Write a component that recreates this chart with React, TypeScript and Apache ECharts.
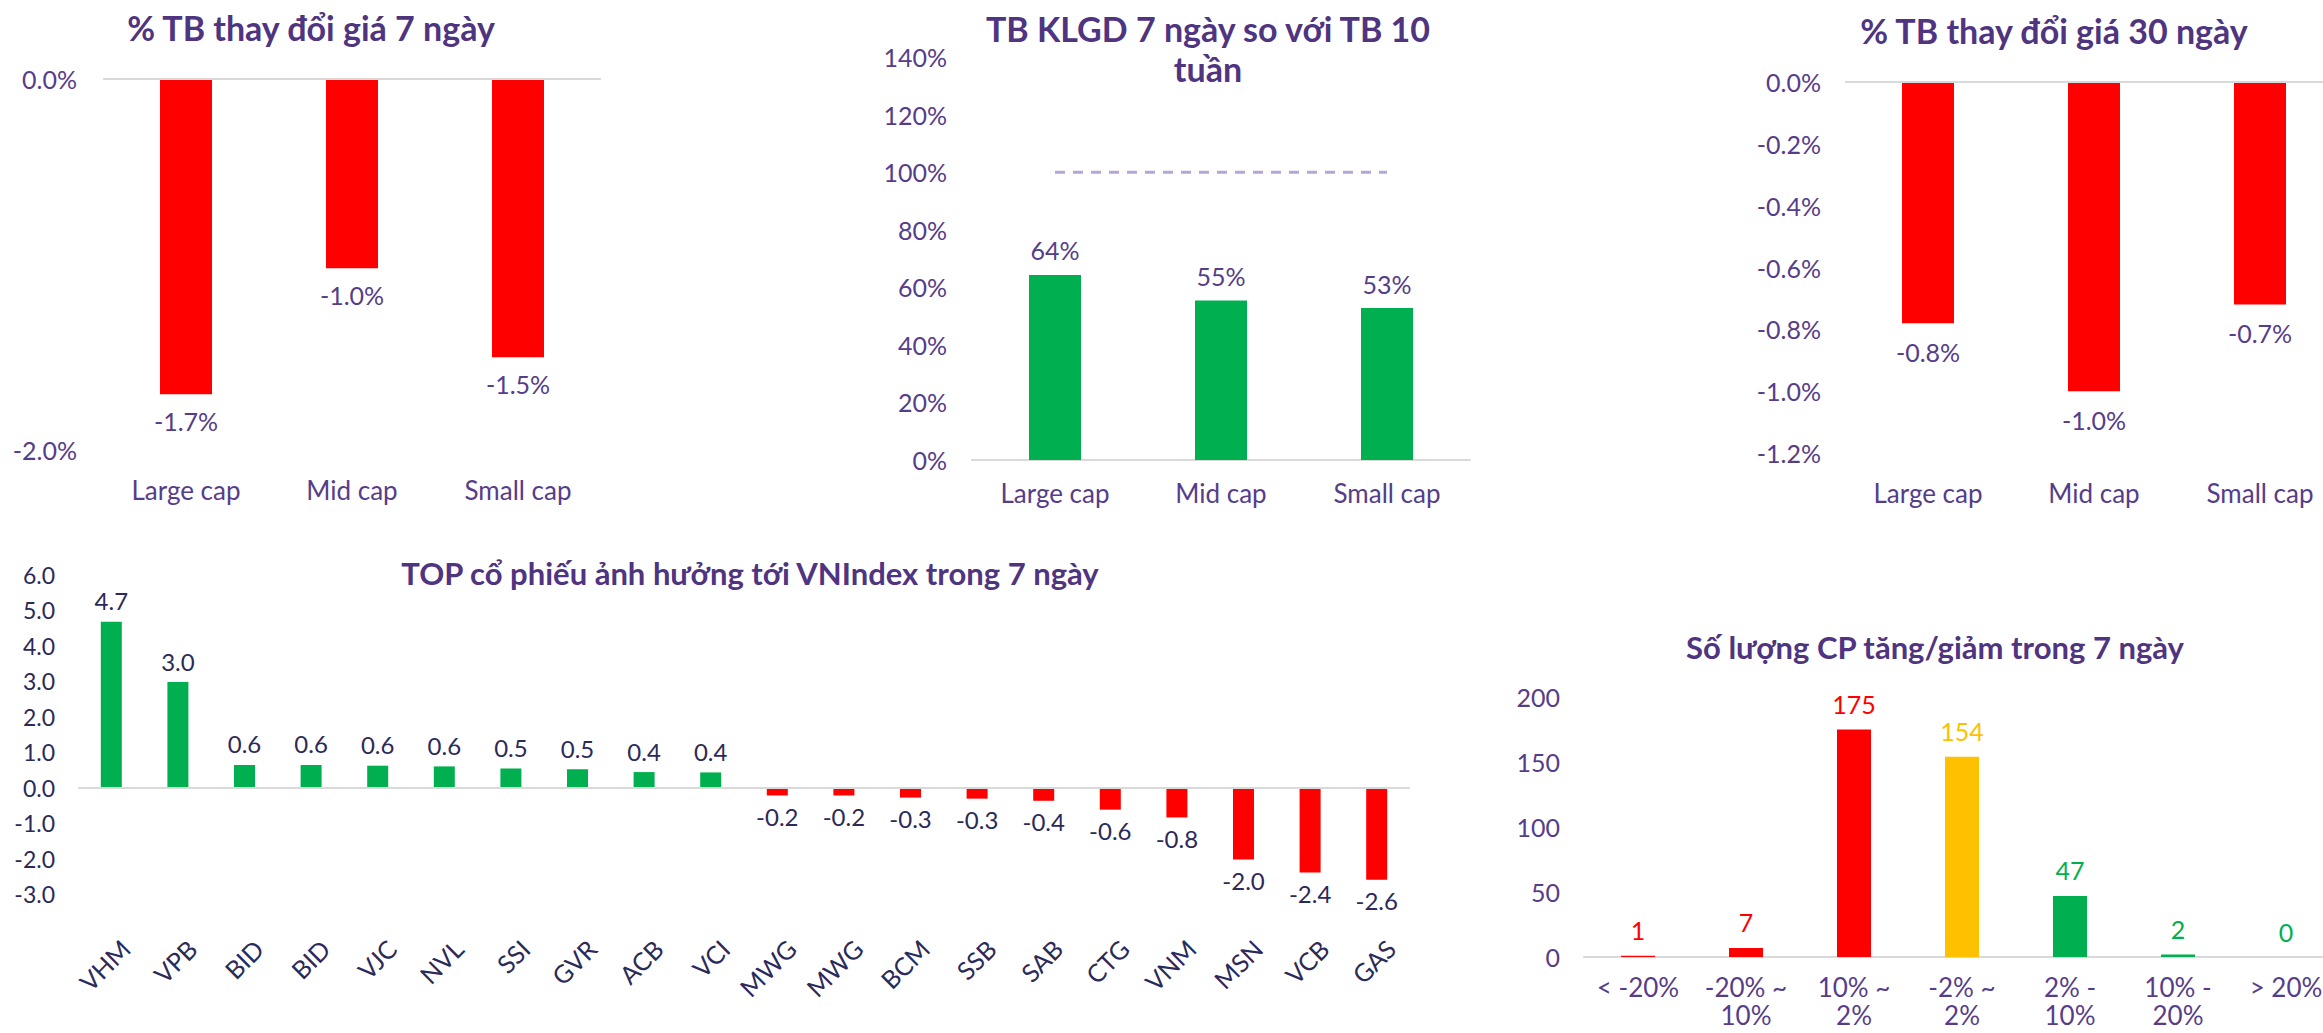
import React, { useEffect, useRef } from 'react';
import * as echarts from 'echarts';

// ---------- DATA ----------
const capCategories = ['Large cap', 'Mid cap', 'Small cap'];
const change7d = [-1.7, -1.02, -1.5];
const volumeRatio = [64.3, 55.4, 52.8];
const volumeReference = [100, 100, 100];
const change30d = [-0.78, -1.0, -0.72];

const topStocks = ['VHM', 'VPB', 'BID', 'BID', 'VJC', 'NVL', 'SSI', 'GVR', 'ACB', 'VCI', 'MWG', 'MWG', 'BCM', 'SSB', 'SAB', 'CTG', 'VNM', 'MSN', 'VCB', 'GAS'];
const topImpact = [4.68, 2.98, 0.64, 0.64, 0.62, 0.6, 0.54, 0.52, 0.44, 0.43, -0.22, -0.22, -0.28, -0.31, -0.37, -0.62, -0.84, -2.03, -2.39, -2.6];

const rangeCategories = ['< -20%', '-20% ~\n10%', '10% ~\n2%', '-2% ~\n2%', '2% -\n10%', '10% -\n20%', '> 20%'];
const rangeCounts = [1, 7, 175, 154, 47, 2, 0];

const titles = [
  '% TB thay đổi giá 7 ngày',
  'TB KLGD 7 ngày so với TB 10\ntuần',
  '% TB thay đổi giá 30 ngày',
  'TOP cổ phiếu ảnh hưởng tới VNIndex trong 7 ngày',
  'Số lượng CP tăng/giảm trong 7 ngày',
];

// ---------- STYLE ----------
const FONT = 'Lato';
const TITLE_C = '#4f3480';
const PURPLE = '#563d8a';
const NAVY = '#2b2a58';
const AXIS_C = '#d9d9d9';
const RED = '#FF0000';
const GREEN = '#00B050';
const ORANGE = '#FFC000';
const rangeColors = [RED, RED, RED, ORANGE, GREEN, GREEN, GREEN];

const W = 2323;
const H = 1033;

function titleText(text: string, x: number, y: number, size: number) {
  return {
    type: 'text',
    x,
    y,
    style: {
      text,
      fill: TITLE_C,
      font: `bold ${size}px ${FONT}`,
      align: 'center',
      verticalAlign: 'middle',
      textAlign: 'center',
      textVerticalAlign: 'middle',
      lineHeight: 40,
    },
  };
}

function zeroLine() {
  return {
    silent: true,
    symbol: 'none',
    label: { show: false },
    lineStyle: { color: AXIS_C, width: 2, type: 'solid' },
    data: [{ yAxis: 0 }],
  };
}

function catAxis(gridIndex: number, data: string[], color: string, margin: number, showLine: boolean, extra: any = {}) {
  return {
    type: 'category',
    gridIndex,
    data,
    axisTick: { show: false },
    axisLine: { show: showLine, onZero: false, lineStyle: { color: AXIS_C, width: 2 } },
    axisLabel: { color, fontSize: 26, lineHeight: 26, fontFamily: FONT, margin, interval: 0, ...extra },
    splitLine: { show: false },
  };
}

function valAxis(gridIndex: number, min: number, max: number, interval: number, formatter: (v: number) => string, color: string, margin: number, fontSize: number) {
  return {
    type: 'value',
    gridIndex,
    min,
    max,
    interval,
    axisLine: { show: false },
    axisTick: { show: false },
    splitLine: { show: false },
    axisLabel: { color, fontSize, fontFamily: FONT, margin, formatter },
  };
}

export default function App() {
  const ref = useRef<HTMLDivElement>(null);

  useEffect(() => {
    if (!ref.current) return;
    const chart = echarts.init(ref.current, null, { renderer: 'svg', width: W, height: H });

    const grids = [
      { left: 103, top: 79, width: 498, height: 371 },
      { left: 972, top: 57, width: 498, height: 403 },
      { left: 1845, top: 82, width: 498, height: 371 },
      { left: 78, top: 575, width: 1332, height: 319 },
      { left: 1584, top: 697, width: 756, height: 260 },
    ].map((g) => ({ ...g, containLabel: false, outerBoundsMode: 'none' }));

    const option: any = {
      animation: false,
      backgroundColor: '#ffffff',
      textStyle: { fontFamily: FONT },
      grid: grids,
      xAxis: [
        catAxis(0, capCategories, PURPLE, 27, false),
        catAxis(1, capCategories, PURPLE, 20, true),
        catAxis(2, capCategories, PURPLE, 27, false),
        catAxis(3, topStocks, NAVY, 36, false, { rotate: 45, fontSize: 25, lineHeight: 40, align: 'right', verticalAlign: 'top' }),
        catAxis(4, rangeCategories, PURPLE, 16, true, { fontSize: 26, lineHeight: 28 }),
      ],
      yAxis: [
        valAxis(0, -2, 0, 2, (v) => v.toFixed(1) + '%', PURPLE, 26, 25),
        valAxis(1, 0, 140, 20, (v) => Math.round(v) + '%', PURPLE, 25, 25),
        valAxis(2, -1.2, 0, 0.2, (v) => (Math.abs(v) < 1e-9 ? 0 : v).toFixed(1) + '%', PURPLE, 24, 25),
        valAxis(3, -3, 6, 1, (v) => v.toFixed(1), NAVY, 23, 23),
        valAxis(4, 0, 200, 50, (v) => String(Math.round(v)), PURPLE, 24, 25),
      ],
      series: [
        {
          type: 'bar',
          xAxisIndex: 0,
          yAxisIndex: 0,
          barWidth: 52,
          itemStyle: { color: RED },
          data: change7d,
          label: {
            show: true,
            position: 'bottom',
            distance: 14,
            color: PURPLE,
            fontSize: 25,
            fontFamily: FONT,
            formatter: (p: any) => p.value.toFixed(1) + '%',
          },
          markLine: zeroLine(),
        },
        {
          type: 'bar',
          xAxisIndex: 1,
          yAxisIndex: 1,
          barWidth: 52,
          itemStyle: { color: GREEN },
          data: volumeRatio,
          label: {
            show: true,
            position: 'top',
            distance: 12,
            color: PURPLE,
            fontSize: 25,
            fontFamily: FONT,
            formatter: (p: any) => Math.round(p.value) + '%',
          },
        },
        {
          type: 'line',
          xAxisIndex: 1,
          yAxisIndex: 1,
          data: volumeReference,
          symbol: 'none',
          lineStyle: { color: '#b4a7d6', width: 3, type: [10, 8] },
          silent: true,
        },
        {
          type: 'bar',
          xAxisIndex: 2,
          yAxisIndex: 2,
          barWidth: 52,
          itemStyle: { color: RED },
          data: change30d,
          label: {
            show: true,
            position: 'bottom',
            distance: 16,
            color: PURPLE,
            fontSize: 25,
            fontFamily: FONT,
            formatter: (p: any) => p.value.toFixed(1) + '%',
          },
          markLine: zeroLine(),
        },
        {
          type: 'bar',
          xAxisIndex: 3,
          yAxisIndex: 3,
          barWidth: 21,
          data: topImpact.map((v) => ({
            value: v,
            itemStyle: { color: v >= 0 ? GREEN : RED },
            label: { position: v >= 0 ? 'top' : 'bottom' },
          })),
          label: {
            show: true,
            distance: 9,
            color: NAVY,
            fontSize: 24,
            fontFamily: FONT,
            formatter: (p: any) => p.value.toFixed(1),
          },
          markLine: zeroLine(),
        },
        {
          type: 'bar',
          xAxisIndex: 4,
          yAxisIndex: 4,
          barWidth: 34,
          data: rangeCounts.map((v, i) => ({
            value: v,
            itemStyle: { color: rangeColors[i] },
            label: { color: rangeColors[i] },
          })),
          label: {
            show: true,
            position: 'top',
            distance: 13,
            fontSize: 25,
            fontFamily: FONT,
          },
        },
      ],
      graphic: [
        titleText(titles[0], 311, 27, 34),
        titleText(titles[1], 1208, 48, 34),
        titleText(titles[2], 2054, 30, 34),
        titleText(titles[3], 750, 573, 31),
        titleText(titles[4], 1935, 647, 31),
      ],
    };

    chart.setOption(option);
    return () => chart.dispose();
  }, []);

  return <div ref={ref} style={{ position: 'absolute', left: 0, top: 0, width: W, height: H }} />;
}
